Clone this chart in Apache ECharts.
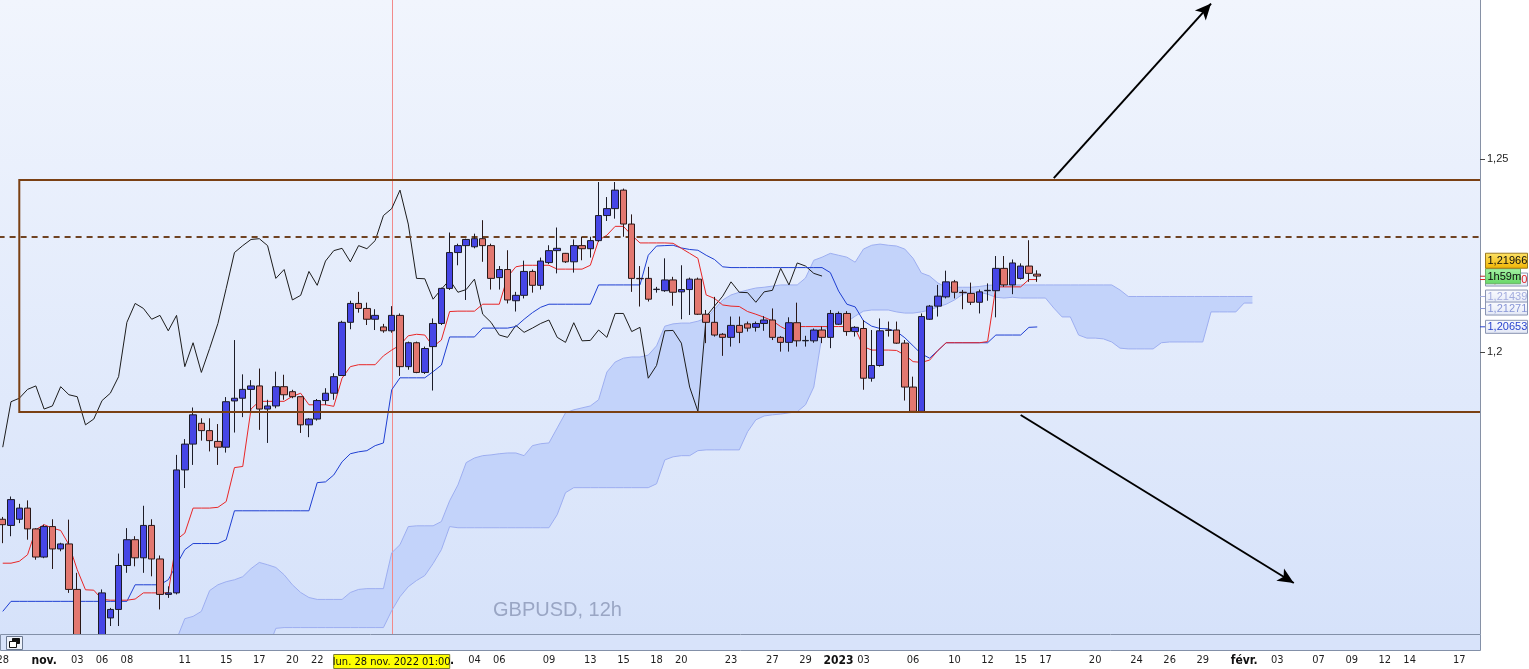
<!DOCTYPE html>
<html><head><meta charset="utf-8">
<script src="https://cdn.jsdelivr.net/npm/echarts@6/dist/echarts.min.js"></script>
<style>
html,body{margin:0;padding:0;background:#fff;overflow:hidden;}
#bg{position:absolute;left:0;top:0;width:1480px;height:634px;background:linear-gradient(#f1f5fd,#d6e2fa);}
#chart{position:absolute;left:0;top:0;width:1529px;height:669px;}
</style></head><body>
<div id="bg"></div><div id="chart"></div>
<script>
// ---- data (GBPUSD 12h candles, index 0 = 28 Oct 2022) ----
const opens = [1.1566,1.1550,1.1566,1.1595,1.1541,1.1468,1.1547,1.1489,1.1502,1.1384,
1.1255,1.1230,1.1245,1.1310,1.1332,1.1446,1.1513,1.1466,1.1550,1.1463,
1.1371,1.1375,1.1694,1.1761,1.1815,1.1796,1.1768,1.1753,1.1873,1.1880,
1.1903,1.1912,1.1852,1.1860,1.1910,1.1897,1.1884,1.1811,1.1826,1.1874,
1.1893,1.1939,1.2077,1.2126,1.2113,1.2085,1.2065,1.2055,1.2095,1.1962,
1.2024,1.1947,1.2014,1.2074,1.2165,1.2258,1.2276,1.2273,1.2294,1.2276,
1.2193,1.2214,1.2133,1.2147,1.2209,1.2173,1.2232,1.2263,1.2256,1.2234,
1.2276,1.2268,1.2289,1.2354,1.2372,1.2420,1.2332,1.2191,1.2191,1.2162,
1.2159,1.2187,1.2156,1.2162,1.2189,1.2098,1.2077,1.2046,1.2038,1.2069,
1.2073,1.2064,1.2074,1.2083,1.2038,1.2025,1.2076,1.2029,1.2029,1.2057,
1.2038,1.2072,1.2100,1.2053,1.2061,1.1932,1.1965,1.2057,1.2057,1.2023,
1.1909,1.1846,1.2085,1.2119,1.2143,1.2182,1.2155,1.2152,1.2129,1.2159,
1.2159,1.2217,1.2174,1.2191,1.2223,1.2202];
const highs = [1.1572,1.1625,1.1606,1.1615,1.1543,1.1552,1.1566,1.1505,1.1565,1.1427,
1.1262,1.1262,1.1384,1.1336,1.1477,1.1543,1.1522,1.1601,1.1566,1.1472,
1.1392,1.1733,1.1774,1.1856,1.1828,1.1828,1.1813,1.1883,1.2031,1.1942,
1.1927,1.1957,1.1876,1.1949,1.1941,1.1902,1.1884,1.1828,1.1878,1.1906,
1.1945,1.2081,1.2133,1.2156,1.2128,1.2111,1.2073,1.2119,1.2100,1.2027,
1.2027,1.2014,1.2087,1.2167,1.2310,1.2281,1.2294,1.2307,1.2342,1.2281,
1.2223,1.2264,1.2156,1.2237,1.2214,1.2245,1.2277,1.2323,1.2257,1.2292,
1.2299,1.2299,1.2441,1.2402,1.2441,1.2424,1.2357,1.2223,1.2221,1.2169,
1.2243,1.2195,1.2225,1.2193,1.2193,1.2109,1.2143,1.2049,1.2092,1.2092,
1.2079,1.2079,1.2093,1.2113,1.2041,1.2090,1.2128,1.2042,1.2061,1.2066,
1.2109,1.2105,1.2106,1.2067,1.2083,1.2057,1.2087,1.2079,1.2079,1.2031,
1.1936,1.2100,1.2122,1.2174,1.2211,1.2187,1.2161,1.2180,1.2162,1.2178,
1.2249,1.2249,1.2240,1.2230,1.2290,1.2212];
const lows = [1.1504,1.1522,1.1556,1.1513,1.1461,1.1465,1.1437,1.1483,1.1375,1.1235,
1.1210,1.1200,1.1235,1.1289,1.1289,1.1427,1.1444,1.1427,1.1418,1.1332,
1.1362,1.1371,1.1647,1.1707,1.1770,1.1742,1.1707,1.1739,1.1791,1.1831,
1.1846,1.1798,1.1764,1.1854,1.1876,1.1880,1.1790,1.1779,1.1822,1.1863,
1.1876,1.1938,1.2059,1.2102,1.2070,1.2057,1.2050,1.2050,1.1938,1.1954,
1.1945,1.1943,1.1900,1.2070,1.2161,1.2225,1.2135,1.2269,1.2234,1.2162,
1.2162,1.2126,1.2105,1.2139,1.2154,1.2162,1.2228,1.2204,1.2231,1.2206,
1.2238,1.2245,1.2286,1.2340,1.2346,1.2299,1.2156,1.2118,1.2131,1.2154,
1.2156,1.2120,1.2085,1.2096,1.2096,1.2023,1.2040,1.1990,1.2014,1.2023,
1.2053,1.2053,1.2055,1.2031,1.2001,1.2001,1.2014,1.2014,1.2024,1.2023,
1.2010,1.2070,1.2042,1.2040,1.1902,1.1923,1.1962,1.2040,1.2021,1.1874,
1.1846,1.1843,1.2083,1.2092,1.2139,1.2139,1.2111,1.2122,1.2100,1.2133,
1.2090,1.2169,1.2150,1.2188,1.2182,1.2182];
const closes = [1.1552,1.1617,1.1595,1.1541,1.1468,1.1547,1.1489,1.1502,1.1384,1.1255,
1.1230,1.1245,1.1375,1.1332,1.1446,1.1513,1.1466,1.1550,1.1463,1.1371,
1.1375,1.1694,1.1761,1.1837,1.1796,1.1770,1.1753,1.1871,1.1880,1.1903,
1.1912,1.1852,1.1860,1.1910,1.1889,1.1884,1.1811,1.1826,1.1874,1.1893,
1.1936,1.2077,1.2126,1.2113,1.2085,1.2095,1.2055,1.2095,1.1962,1.2024,
1.1947,1.2009,1.2074,1.2165,1.2258,1.2276,1.2292,1.2294,1.2276,1.2191,
1.2214,1.2135,1.2147,1.2209,1.2173,1.2236,1.2263,1.2269,1.2234,1.2276,
1.2268,1.2289,1.2354,1.2372,1.2420,1.2332,1.2191,1.2190,1.2137,1.2163,
1.2187,1.2155,1.2162,1.2189,1.2098,1.2077,1.2044,1.2038,1.2069,1.2051,
1.2062,1.2074,1.2083,1.2038,1.2025,1.2076,1.2029,1.2030,1.2057,1.2038,
1.2100,1.2100,1.2053,1.2064,1.1932,1.1965,1.2055,1.2056,1.2023,1.1909,
1.1846,1.2092,1.2119,1.2145,1.2182,1.2155,1.2154,1.2129,1.2156,1.2160,
1.2217,1.2174,1.2231,1.2223,1.2204,1.2197];
// Ichimoku lines
const tenkan = [1.1452,1.1452,1.1457,1.1474,1.1539,1.1552,1.1543,1.1537,1.1500,1.1435,
1.1383,1.1382,1.1358,1.1356,1.1356,1.1356,1.1359,1.1375,1.1375,1.1375,
1.1375,1.1513,1.1530,1.1595,1.1595,1.1595,1.1597,1.1612,1.1700,1.1703,
1.1852,1.1872,1.1872,1.1872,1.1872,1.1885,1.1893,1.1863,1.1863,1.1863,
1.1859,1.1932,1.1962,1.1967,1.1967,1.1967,1.1990,1.2005,1.2018,1.2042,
1.2046,1.2044,1.2014,1.2031,1.2105,1.2106,1.2106,1.2106,1.2124,1.2124,
1.2124,1.2195,1.2221,1.2225,1.2225,1.2225,1.2225,1.2215,1.2215,1.2215,
1.2215,1.2225,1.2290,1.2303,1.2326,1.2326,1.2303,1.2283,1.2283,1.2283,
1.2283,1.2282,1.2269,1.2256,1.2243,1.2148,1.2139,1.2122,1.2119,1.2118,
1.2105,1.2098,1.2090,1.2081,1.2066,1.2055,1.2066,1.2066,1.2066,1.2066,
1.2066,1.2066,1.2066,1.2061,1.2014,1.2005,1.2005,1.2005,1.2004,1.1992,
1.1975,1.1973,1.1979,1.2004,1.2024,1.2024,1.2024,1.2024,1.2024,1.2027,
1.2169,1.2169,1.2169,1.2169,1.2188,1.2188];
const kijun = [1.1327,1.1353,1.1353,1.1353,1.1353,1.1353,1.1353,1.1353,1.1353,1.1353,
1.1353,1.1353,1.1353,1.1353,1.1353,1.1353,1.1396,1.1396,1.1396,1.1396,
1.1409,1.1448,1.1487,1.1503,1.1503,1.1503,1.1503,1.1513,1.1588,1.1588,
1.1588,1.1588,1.1588,1.1588,1.1588,1.1588,1.1588,1.1588,1.1661,1.1663,
1.1681,1.1715,1.1736,1.1741,1.1744,1.1757,1.1764,1.1902,1.1933,1.1933,
1.1933,1.1933,1.1949,1.1966,1.2039,1.2039,1.2039,1.2039,1.2062,1.2062,
1.2062,1.2062,1.2066,1.2085,1.2102,1.2116,1.2124,1.2124,1.2124,1.2124,
1.2124,1.2124,1.2174,1.2174,1.2174,1.2174,1.2174,1.2174,1.2251,1.2275,
1.2276,1.2277,1.2270,1.2266,1.2264,1.2251,1.2240,1.2221,1.2219,1.2219,
1.2219,1.2219,1.2219,1.2219,1.2219,1.2219,1.2219,1.2219,1.2219,1.2219,
1.2206,1.2158,1.2124,1.2117,1.2081,1.2067,1.2061,1.2060,1.2053,1.2037,
1.2016,1.1995,1.1984,1.2004,1.2024,1.2024,1.2024,1.2024,1.2024,1.2024,
1.2044,1.2044,1.2044,1.2044,1.2064,1.2065];
const cloudStart = 21;
const cloudHi = [1.1254,1.1308,1.1314,1.1327,1.1381,1.1396,1.1404,1.1409,1.1417,1.1438,
1.1454,1.1448,1.1441,1.1422,1.1396,1.1376,1.1363,1.1358,1.1358,1.1358,
1.1358,1.1376,1.1384,1.1386,1.1386,1.1386,1.1479,1.1500,1.1547,1.1549,
1.1549,1.1549,1.1560,1.1614,1.1655,1.1713,1.1725,1.1731,1.1733,1.1736,
1.1738,1.1738,1.1731,1.1757,1.1762,1.1764,1.1803,1.1842,1.1850,1.1855,
1.1860,1.1876,1.1948,1.1974,1.1984,1.1987,1.1987,1.1992,1.2016,1.2067,
1.2073,1.2075,1.2075,1.2080,1.2088,1.2111,1.2135,1.2148,1.2155,1.2161,
1.2166,1.2168,1.2171,1.2174,1.2174,1.2174,1.2192,1.2238,1.2246,1.2256,
1.2251,1.2246,1.2233,1.2267,1.2277,1.2280,1.2277,1.2275,1.2267,1.2243,
1.2205,1.2197,1.2179,1.2168,1.2168,1.2168,1.2168,1.2170,1.2173,1.2174,
1.2174,1.2174,1.2174,1.2174,1.2174,1.2174,1.2174,1.2174,1.2174,1.2174,
1.2174,1.2174,1.2174,1.2174,1.2161,1.2144,1.2144,1.2144,1.2144,1.2144,
1.2144,1.2144,1.2144,1.2144,1.2144,1.2144,1.2144,1.2144,1.2144,1.2144,1.2144];
const cloudLo = [1.1228,1.1228,1.1228,1.1228,1.1228,1.1228,1.1228,1.1228,1.1228,1.1228,
1.1228,1.1228,1.1283,1.1285,1.1285,1.1285,1.1285,1.1285,1.1285,1.1285,
1.1285,1.1285,1.1285,1.1285,1.1285,1.1285,1.1329,1.1365,1.1391,1.1407,
1.1420,1.1451,1.1487,1.1547,1.1544,1.1544,1.1544,1.1544,1.1544,1.1544,
1.1544,1.1544,1.1544,1.1544,1.1544,1.1544,1.1578,1.1635,1.1648,1.1648,
1.1648,1.1648,1.1648,1.1648,1.1648,1.1648,1.1648,1.1648,1.1658,1.1720,
1.1728,1.1731,1.1731,1.1744,1.1746,1.1746,1.1746,1.1746,1.1746,1.1793,
1.1824,1.1834,1.1837,1.1839,1.1842,1.1845,1.1863,1.1909,1.2044,1.2078,
1.2078,1.2078,1.2093,1.2106,1.2109,1.2109,1.2109,1.2104,1.2101,1.2101,
1.2104,1.2109,1.2117,1.2124,1.2135,1.2150,1.2155,1.2155,1.2150,1.2142,
1.2140,1.2142,1.2140,1.2140,1.2140,1.2140,1.2114,1.2091,1.2091,1.2044,
1.2036,1.2036,1.2034,1.2026,1.2010,1.2008,1.2008,1.2008,1.2008,1.2024,
1.2026,1.2026,1.2026,1.2026,1.2026,1.2104,1.2104,1.2104,1.2104,1.2127,1.2127];
// axis ticks
const tickIdx  = [0,5,9,12,15,22,27,31,35,38,53,57,60,66,71,75,79,82,88,93,97,101,104,110,115,119,123,126,132,137,141,145,150,154,159,163,167,170,176];
const tickText = ['28','nov.','03','06','08','11','15','17','20','22','déc.','04','06','09','13','15','18','20','23','27','29','2023','03','06','10','12','15','17','20','24','26','29','févr.','03','07','09','12','14','17'];
const boldTicks = ['nov.','déc.','2023','févr.'];
const yTicks = [1.2, 1.25];
// annotations
const boxLeftIdx = 2, boxTop = 1.24463, boxBottom = 1.18443;
const dashLevel = 1.22958;
const crossIdx = 47, crossLabel = 'lun. 28 nov. 2022 01:00';
const arrowUp = [[127, 1.2451], [146, 1.2904]];
const arrowDown = [[123, 1.18365], [156, 1.14006]];
const lastPrice = 1.21966, timerText = '1h59m';
const tags = [
  {v:1.20653, t:'1,20653', c:'#2a44cf'},
  {v:1.21439, t:'1,21439', c:'#a3acdf'},
  {v:1.21271, t:'1,21271', c:'#8795d6'},
  {v:1.21880, t:'1,21880', c:'#e02020'}
];

// ---- chart ----
const N = 179;
const cats = Array.from({length:N}, (_, i) => String(i));
const FN = "'Liberation Sans Narrow','DejaVu Sans Condensed','Liberation Sans',sans-serif";
const FS = "'Liberation Sans',Arial,sans-serif";
const chart = echarts.init(document.getElementById('chart'), null, {renderer:'canvas'});

const candleData = opens.map((o, i) => [o, closes[i], lows[i], highs[i]]);
const chikouData = closes.slice(26).map((v, k) => [k, v]);
const hiData = cloudHi.map((v, k) => [k + cloudStart, v]);
const loData = cloudLo.map((v, k) => [k + cloudStart, v]);

const option = {
  animation: false,
  grid: {left: -1.4, top: 0, width: 1481.4, height: 634, containLabel: false, outerBoundsMode: 'none'},
  xAxis: {
    type: 'category', data: cats, boundaryGap: true,
    axisLine: {show: false}, axisTick: {show: false}, splitLine: {show: false},
    axisLabel: {
      interval: 0, margin: 21, color: '#1e1e1e', fontSize: 11, fontFamily: FN, hideOverlap: false,
      formatter: (val, idx) => {
        const k = tickIdx.indexOf(idx);
        if (k < 0) return '';
        const t = tickText[k];
        return boldTicks.includes(t) ? '{b|' + t + '}' : t;
      },
      rich: {b: {fontWeight: 'bold', fontSize: 12, fontFamily: FN, color: '#111'}}
    }
  },
  yAxis: {
    type: 'value', position: 'right', min: 1.12683, max: 1.29133,
    splitLine: {show: false},
    axisLine: {show: true, lineStyle: {color: '#8691a6', width: 1}},
    axisTick: {show: true, customValues: yTicks, length: 5, lineStyle: {color: '#444'}},
    axisLabel: {customValues: yTicks, margin: 7, color: '#1e1e1e', fontSize: 11, fontFamily: FS,
      formatter: v => String(v).replace('.', ',')}
  },
  series: [
    {
      type: 'custom', name: 'cloud', z: 1, silent: true, clip: true,
      data: [[cloudStart, cloudHi[0]]],
      renderItem: (params, api) => {
        const pts = [];
        hiData.forEach(d => pts.push(api.coord(d)));
        for (let k = loData.length - 1; k >= 0; k--) pts.push(api.coord(loData[k]));
        return {type: 'polygon', shape: {points: pts}, style: {fill: '#c3d3fa', stroke: null}};
      }
    },
    {type: 'line', name: 'senkouHi', data: hiData, symbol: 'none', z: 2, silent: true,
      lineStyle: {color: '#9daef0', width: 1}},
    {type: 'line', name: 'senkouLo', data: loData, symbol: 'none', z: 2, silent: true,
      lineStyle: {color: '#9daef0', width: 1}},
    {
      type: 'custom', name: 'crosshair', z: 2, silent: true, clip: false,
      data: [[crossIdx, dashLevel]],
      renderItem: (params, api) => {
        const cs = params.coordSys;
        const x = Math.round(api.coord([crossIdx, dashLevel])[0]) + 0.5;
        return {type: 'line', shape: {x1: x, y1: cs.y, x2: x, y2: cs.y + cs.height},
          style: {stroke: '#f28a8a', lineWidth: 1}};
      }
    },
    {type: 'line', name: 'chikou', data: chikouData, symbol: 'none', z: 3, silent: true,
      lineStyle: {color: '#1c1c1c', width: 1}},
    {type: 'line', name: 'kijun', data: kijun, symbol: 'none', z: 3, silent: true,
      lineStyle: {color: '#1f3fd2', width: 1}},
    {type: 'line', name: 'tenkan', data: tenkan, symbol: 'none', z: 3, silent: true,
      lineStyle: {color: '#e82626', width: 1}},
    {
      type: 'candlestick', name: 'GBPUSD', data: candleData, barWidth: 7, z: 5, silent: true,
      itemStyle: {color: '#4646e6', color0: '#e27870', borderColor: '#1c1c28', borderColor0: '#2a1818', borderWidth: 1},
      markLine: {
        silent: true, symbol: ['none', 'none'], animation: false, label: {show: false},
        data: [
          {yAxis: dashLevel, lineStyle: {color: '#6f4322', width: 2, type: [6, 5]}},
          [{coord: arrowUp[0], symbol: 'none'}, {coord: arrowUp[1], symbol: 'arrow', symbolSize: [11, 16],
            lineStyle: {color: '#000', width: 2, type: 'solid'}}],
          [{coord: arrowDown[0], symbol: 'none'}, {coord: arrowDown[1], symbol: 'arrow', symbolSize: [11, 16],
            lineStyle: {color: '#000', width: 2, type: 'solid'}}]
        ]
      }
    },
    {
      type: 'custom', name: 'box', z: 6, silent: true, clip: false,
      data: [[boxLeftIdx, boxTop]],
      renderItem: (params, api) => {
        const cs = params.coordSys;
        const a = api.coord([boxLeftIdx, boxTop]);
        const b = api.coord([boxLeftIdx, boxBottom]);
        const r = cs.x + cs.width;
        return {type: 'polyline', shape: {points: [[r, a[1]], [a[0], a[1]], [a[0], b[1]], [r, b[1]]]},
          style: {stroke: '#7a4013', lineWidth: 2, fill: null}};
      }
    }
  ]
};
chart.setOption(option);

// ---- overlays: price tags, bottom strip, crosshair date label, watermark ----
const yPix = v => chart.convertToPixel({yAxisIndex: 0}, v);
const xPix = i => chart.convertToPixel({xAxisIndex: 0}, i);
const g = [];
g.push({type: 'text', z: 0, style: {text: 'GBPUSD, 12h', x: 493, y: 610, fill: '#9aa6c4', fontSize: 20, fontFamily: FS, verticalAlign: 'middle'}});
// strip
g.push({type: 'rect', z: 100, shape: {x: 0.5, y: 634.5, width: 1480, height: 16}, style: {fill: '#d8e3fa', stroke: '#8390a8', lineWidth: 1}});
g.push({type: 'rect', z: 101, shape: {x: 6.5, y: 636.5, width: 16, height: 13}, style: {fill: '#eef2fa', stroke: '#6b7890', lineWidth: 1}});
g.push({type: 'rect', z: 102, shape: {x: 12.5, y: 638.5, width: 7, height: 5}, style: {fill: '#111', stroke: '#111', lineWidth: 1}});
g.push({type: 'rect', z: 103, shape: {x: 9.5, y: 641.5, width: 7, height: 6}, style: {fill: '#fff', stroke: '#111', lineWidth: 1}});
// crosshair date label
const cx = xPix(crossIdx);
g.push({type: 'rect', z: 110, shape: {x: cx - 58, y: 654.5, width: 116, height: 14}, style: {fill: '#ffff00', stroke: '#7a7a30', lineWidth: 1}});
g.push({type: 'text', z: 111, style: {text: crossLabel, x: cx, y: 662, fill: '#111', fontSize: 11, fontFamily: FN, align: 'center', verticalAlign: 'middle'}});
// right axis tags
const tagFill = new echarts.graphic.LinearGradient(0, 0, 0, 1, [{offset: 0, color: '#fbfcff'}, {offset: 1, color: '#e3e8f6'}]);
tags.forEach((tg, k) => {
  let y = yPix(tg.v);
  if (k === 2) y = Math.max(y, yPix(tags[1].v) + 12);
  g.push({type: 'line', z: 119, shape: {x1: 1480, y1: y, x2: 1485, y2: y}, style: {stroke: tg.c, lineWidth: 1}});
  g.push({type: 'rect', z: 120 + k * 2, shape: {x: 1485.5, y: y - 6.5, width: 42, height: 13}, style: {fill: tagFill, stroke: '#8a95b2', lineWidth: 1}});
  g.push({type: 'text', z: 121 + k * 2, style: {text: tg.t, x: 1487.5, y: y + 0.5, fill: tg.c, fontSize: 11, fontFamily: FS, verticalAlign: 'middle'}});
});
const yp = yPix(lastPrice);
g.push({type: 'line', z: 129, shape: {x1: 1480, y1: yp, x2: 1485, y2: yp}, style: {stroke: '#c03030', lineWidth: 1}});
g.push({type: 'rect', z: 130, shape: {x: 1485.5, y: yp - 7.5, width: 35, height: 15},
  style: {fill: new echarts.graphic.LinearGradient(0, 0, 0, 1, [{offset: 0, color: '#a6f2a6'}, {offset: 1, color: '#66d666'}]), stroke: '#6ab26a', lineWidth: 1}});
g.push({type: 'text', z: 131, style: {text: timerText, x: 1487.5, y: yp + 0.5, fill: '#0c0c0c', fontSize: 11, fontFamily: FS, verticalAlign: 'middle'}});
g.push({type: 'rect', z: 132, shape: {x: 1485.5, y: yp - 23, width: 42, height: 15},
  style: {fill: new echarts.graphic.LinearGradient(0, 0, 0, 1, [{offset: 0, color: '#fde46a'}, {offset: 1, color: '#f1b400'}]), stroke: '#9c7a20', lineWidth: 1}});
g.push({type: 'text', z: 133, style: {text: String(lastPrice).replace('.', ','), x: 1487.5, y: yp - 15, fill: '#0c0c0c', fontSize: 11, fontFamily: FS, verticalAlign: 'middle'}});
chart.setOption({graphic: {elements: g}});
</script></body></html>
